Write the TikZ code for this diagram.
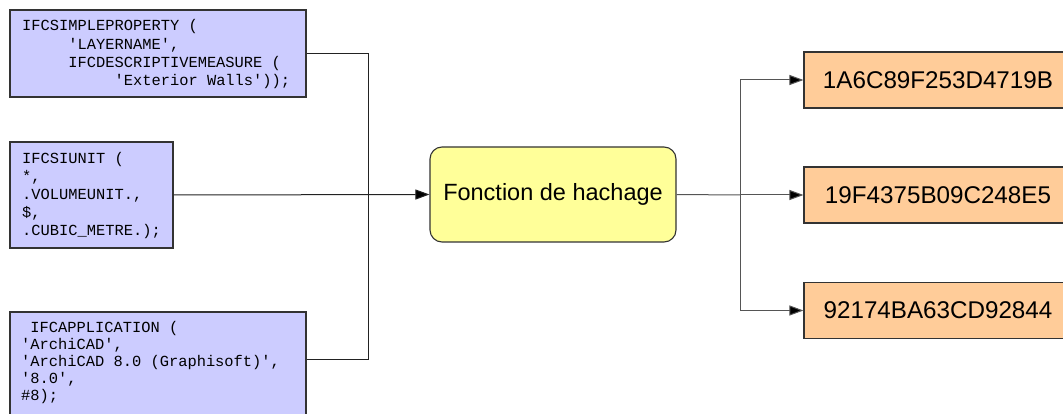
\documentclass[tikz,border=0pt]{standalone}
\usepackage{fontspec}
\setmainfont{Liberation Sans}
\setsansfont{Liberation Sans}
\setmonofont{Liberation Mono}
\usetikzlibrary{arrows.meta,calc}
\definecolor{codefill}{HTML}{CCCCFF}
\definecolor{hashfill}{HTML}{FFFF99}
\definecolor{outfill}{HTML}{FFCC99}
\definecolor{edge}{HTML}{333333}
\definecolor{wire}{HTML}{222222}
\definecolor{wireR}{HTML}{555555}
\begin{document}
\begin{tikzpicture}[x=1pt,y=-1pt,
  codebox/.style={draw=edge,line width=1.1pt,fill=codefill,rectangle,inner sep=0pt},
  codeline/.style={anchor=base west,inner sep=0pt,
    font=\fontsize{15.4}{17.7}\selectfont\ttfamily},
  hashbox/.style={draw=edge,line width=1.1pt,fill=hashfill,rounded corners=12pt,
    minimum width=246pt,minimum height=95pt,inner sep=0pt,
    font=\fontsize{23.5}{26}\selectfont\sffamily},
  outbox/.style={draw=edge,line width=1.1pt,fill=outfill,
    minimum width=268pt,minimum height=56pt,inner sep=0pt},
  outtext/.style={inner sep=0pt,font=\fontsize{24.2}{26}\selectfont\sffamily},
  wireL/.style={draw=wire,line width=1pt},
  wireRt/.style={draw=wireR,line width=1pt},
  tip/.style={-{Triangle[length=14pt,width=10pt,fill=black]}}
]
\useasboundingbox (0,0) rectangle (1063,414);
\clip (0,0) rectangle (1063,414);
\fill[white] (0,0) rectangle (1063,414);

% input box 1
\node[codebox,minimum width=296pt,minimum height=87pt] (b1) at (158,53.5) {};
\node[codeline] (t1a) at (22,31)   {IFCSIMPLEPROPERTY (};
\node[codeline] (t1b) at (22,49.3) {\phantom{xxxxx}'LAYERNAME',};
\node[codeline] (t1c) at (22,67.7) {\phantom{xxxxx}IFCDESCRIPTIVEMEASURE (};
\node[codeline] (t1d) at (22,86)   {\phantom{xxxxxxxxxx}'Exterior Walls'));};

% input box 2
\node[codebox,minimum width=163pt,minimum height=106pt] (b2) at (91.5,195) {};
\node[codeline] (t2a) at (22,163.3) {IFCSIUNIT (};
\node[codeline] (t2b) at (22,181.5) {*,};
\node[codeline] (t2c) at (22,199.7) {.VOLUMEUNIT.,};
\node[codeline] (t2d) at (22,217.9) {\$,};
\node[codeline] (t2e) at (22,236)   {.CUBIC\_METRE.);};

% input box 3
\node[codebox,minimum width=296pt,minimum height=120pt] (b3) at (158,372) {};
\node[codeline] (t3a) at (21,332) {\phantom{x}IFCAPPLICATION (};
\node[codeline] (t3b) at (21,349) {'ArchiCAD',};
\node[codeline] (t3c) at (21,366) {'ArchiCAD 8.0 (Graphisoft)',};
\node[codeline] (t3d) at (21,383) {'8.0',};
\node[codeline] (t3e) at (21,400) {\#8);};

% hash function
\node[hashbox] (h) at (553,194.5) {Fonction de hachage};

% outputs
\node[outbox] (o1) at (938,80) {};
\node[outtext] (o1t) at (o1) {1A6C89F253D4719B};
\node[outbox] (o2) at (938,195) {};
\node[outtext] (o2t) at (o2) {19F4375B09C248E5};
\node[outbox] (o3) at (938,310.5) {};
\node[outtext] (o3t) at (o3) {92174BA63CD92844};

% connectors left
\coordinate (j) at (368,195);
\draw[wireL] (b1.east) -| (j);
\draw[wireL] ([yshift=-48pt]b3.north east) -| (j);
\draw[wireL,tip] (b2.east) -- (h.west);

% connectors right
\coordinate (k) at (740,195);
\draw[wireRt] (h.east) -- (k);
\draw[wireRt,tip] (k) |- (o1.west);
\draw[wireRt,tip] (k) -- (o2.west);
\draw[wireRt,tip] (k) |- (o3.west);
\end{tikzpicture}
\end{document}
